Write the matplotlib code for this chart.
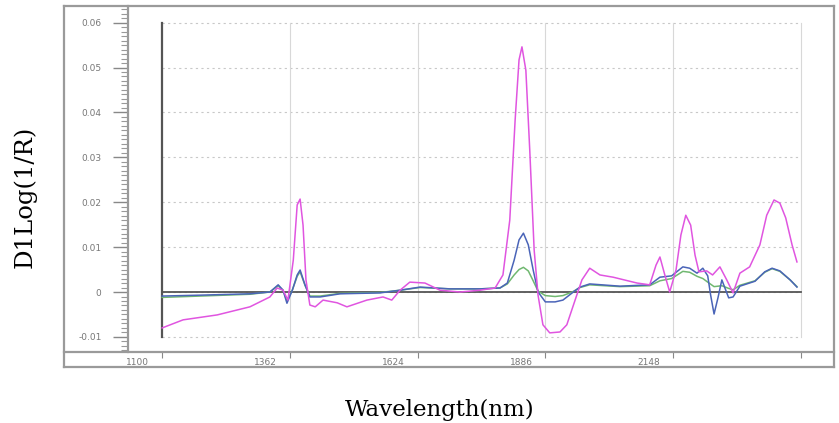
import matplotlib
matplotlib.use("Agg")
import matplotlib.pyplot as plt
from matplotlib.lines import Line2D
from matplotlib.ticker import MultipleLocator

# ---------------- data ----------------
wl_magenta = [1100, 1143, 1213, 1280, 1321, 1336, 1348, 1358, 1369, 1377, 1383, 1389, 1395, 1403,
              1414, 1430, 1459, 1479, 1520, 1553, 1571, 1588, 1608, 1639, 1670, 1711, 1752, 1783,
              1799, 1813, 1824, 1832, 1838, 1846, 1854, 1863, 1871, 1881, 1895, 1916, 1930, 1947,
              1961, 1977, 1998, 2025, 2074, 2100, 2113, 2121, 2131, 2141, 2154, 2164, 2174, 2184,
              2193, 2201, 2217, 2229, 2244, 2258, 2271, 2285, 2305, 2326, 2340, 2355, 2367, 2379,
              2392, 2402]
val_magenta = [-0.0080, -0.0062, -0.0051, -0.0033, -0.0011, 0.0009, 0.0004, -0.0018, 0.0071, 0.0194,
               0.0207, 0.0149, 0.0027, -0.0029, -0.0033, -0.0018, -0.0024, -0.0033, -0.0018, -0.0011,
               -0.0018, 0.0004, 0.0022, 0.0020, 0.0004, 0.0000, 0.0004, 0.0009, 0.0038, 0.0160,
               0.0383, 0.0517, 0.0546, 0.0494, 0.0316, 0.0094, -0.0007, -0.0073, -0.0091, -0.0089,
               -0.0073, -0.0018, 0.0027, 0.0053, 0.0038, 0.0033, 0.0020, 0.0016, 0.0060, 0.0078,
               0.0038, 0.0000, 0.0049, 0.0127, 0.0171, 0.0149, 0.0082, 0.0045, 0.0047, 0.0038,
               0.0056, 0.0027, -0.0002, 0.0042, 0.0056, 0.0105, 0.0171, 0.0205, 0.0198, 0.0165,
               0.0105, 0.0067]

wl_blue = [1100, 1178, 1280, 1321, 1338, 1348, 1356, 1367, 1377, 1383, 1393, 1403, 1424, 1465,
           1547, 1588, 1629, 1690, 1752, 1793, 1808, 1822, 1832, 1841, 1851, 1861, 1871, 1886,
           1906, 1922, 1941, 1957, 1977, 2039, 2100, 2121, 2145, 2168, 2182, 2197, 2209, 2219,
           2225, 2232, 2240, 2248, 2256, 2262, 2271, 2285, 2316, 2336, 2351, 2367, 2388, 2402]
val_blue = [-0.0009, -0.0007, -0.0004, 0.0000, 0.0016, 0.0004, -0.0025, 0.0004, 0.0038, 0.0049,
            0.0016, -0.0011, -0.0011, -0.0004, -0.0002, 0.0004, 0.0011, 0.0007, 0.0007, 0.0009,
            0.0020, 0.0071, 0.0116, 0.0131, 0.0105, 0.0049, 0.0000, -0.0022, -0.0022, -0.0018,
            -0.0002, 0.0011, 0.0018, 0.0013, 0.0016, 0.0033, 0.0036, 0.0056, 0.0053, 0.0042,
            0.0053, 0.0036, -0.0007, -0.0049, -0.0013, 0.0027, 0.0004, -0.0013, -0.0011, 0.0013,
            0.0024, 0.0045, 0.0053, 0.0047, 0.0027, 0.0011]

wl_green = [1100, 1178, 1280, 1321, 1338, 1348, 1356, 1367, 1377, 1383, 1393, 1403, 1424, 1465,
            1547, 1588, 1629, 1690, 1752, 1793, 1808, 1822, 1832, 1841, 1851, 1861, 1871, 1886,
            1906, 1922, 1941, 1957, 1977, 2039, 2100, 2121, 2145, 2168, 2182, 2197, 2209, 2219,
            2232, 2248, 2262, 2271, 2285, 2316, 2336, 2351, 2367, 2388, 2402]
val_green = [-0.0012, -0.0009, -0.0005, 0.0000, 0.0014, 0.0004, -0.0020, 0.0004, 0.0035, 0.0045,
             0.0015, -0.0009, -0.0009, -0.0003, -0.0001, 0.0004, 0.0010, 0.0007, 0.0007, 0.0009,
             0.0018, 0.0038, 0.0050, 0.0055, 0.0047, 0.0025, 0.0002, -0.0008, -0.0010, -0.0008,
             0.0000, 0.0010, 0.0016, 0.0012, 0.0014, 0.0025, 0.0030, 0.0046, 0.0044, 0.0035,
             0.0030, 0.0022, 0.0012, 0.0014, 0.0008, 0.0005, 0.0015, 0.0025, 0.0044, 0.0052,
             0.0046, 0.0027, 0.0012]

x_ticks = [1100, 1362, 1624, 1886, 2148, 2410]
x_tick_labels = ["1100", "1362", "1624", "1886", "2148", ""]
y_ticks = [-0.01, 0, 0.01, 0.02, 0.03, 0.04, 0.05, 0.06]
y_tick_labels = ["-0.01", "0", "0.01", "0.02", "0.03", "0.04", "0.05", "0.06"]

# ---------------- figure ----------------
W, H = 839, 423
fig = plt.figure(figsize=(W / 100, H / 100), dpi=100)

def fx(px):
    return px / W

def fy(py):
    return 1 - py / H

ax = fig.add_axes([fx(128), fy(352), fx(834) - fx(128), fy(6) - fy(352)])
ax.set_xlim(1030, 2478)
ax.set_ylim(-0.01336, 0.0637)
for s in ax.spines.values():
    s.set_visible(False)

# grid
for yv in y_ticks:
    ax.plot([1100, 2410], [yv, yv], color="#c8c8c8", lw=0.8, ls=(0, (2, 3)), zorder=1)
for xv in x_ticks[1:]:
    ax.plot([xv, xv], [-0.01, 0.06], color="#d8d8d8", lw=0.8, zorder=1)

# axes lines inside
ax.plot([1100, 1100], [-0.01, 0.06], color="#555555", lw=1.6, zorder=2)
ax.plot([1100, 2410], [0, 0], color="#555555", lw=1.3, zorder=2)

# series
ax.plot(wl_green, val_green, color="#70b870", lw=1.1, zorder=3)
ax.plot(wl_blue, val_blue, color="#4a64b8", lw=1.1, zorder=4)
ax.plot(wl_magenta, val_magenta, color="#e055e0", lw=1.1, zorder=5)

# ticks
ax.set_yticks(y_ticks)
ax.set_yticklabels(y_tick_labels)
ax.yaxis.set_minor_locator(MultipleLocator(0.001))
ax.tick_params(axis="y", which="major", direction="out", length=11, width=1.0,
               color="#888888", labelsize=6.5, labelcolor="#777777", pad=8)
ax.tick_params(axis="y", which="minor", direction="out", length=5, width=0.8, color="#999999")
ax.set_xticks(x_ticks)
ax.set_xticklabels([])
ax.tick_params(axis="x", which="major", direction="out", length=4, width=0.8, color="#888888")
for xv, lab in zip(x_ticks, x_tick_labels):
    ax.text(xv - 50, -0.0148, lab, ha="center", va="top", fontsize=6.5, color="#777777",
            clip_on=False)

# frame (outer box + dividers)
frame_c = "#9a9a9a"
def fline(x0, y0, x1, y1, lw=1.6):
    fig.add_artist(Line2D([fx(x0), fx(x1)], [fy(y0), fy(y1)], color=frame_c, lw=lw,
                          transform=fig.transFigure))

fline(64, 6, 834, 6)
fline(64, 367, 834, 367)
fline(64, 6, 64, 367)
fline(834, 6, 834, 367)
fline(128, 6, 128, 352)
fline(64, 352, 834, 352)

# axis titles
fig.text(fx(440), fy(410), "Wavelength(nm)", ha="center", va="center",
         fontsize=16.5, family="DejaVu Serif")
fig.text(fx(25), fy(197), "D1Log(1/R)", ha="center", va="center", rotation=90,
         fontsize=17.5, family="DejaVu Serif")

fig.savefig("out.png", dpi=100)
